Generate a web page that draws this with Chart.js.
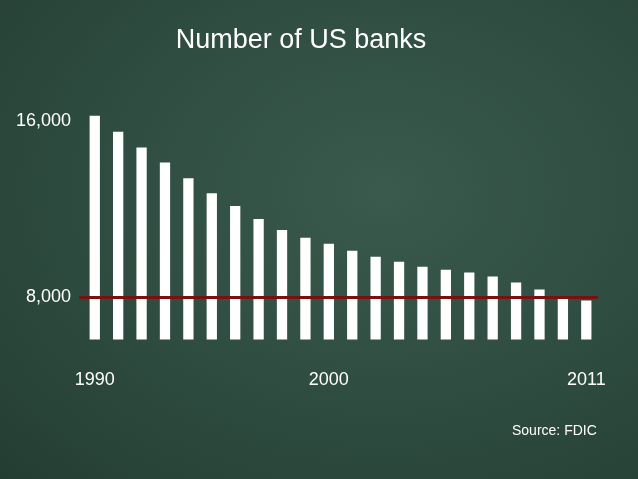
<!DOCTYPE html>
<html>
<head>
<meta charset="utf-8">
<script src="https://cdn.jsdelivr.net/npm/chart.js@4"></script>
<style>
  body { margin: 0; background: #2d4a3f; }
  #wrap { width: 638px; height: 479px; position: relative;
    background: radial-gradient(ellipse at 60% 40%, #3a5a4d 0%, #2d4a3f 60%, #243d33 100%); }
  #source { position: absolute; left: 512px; top: 422px; color: #fff; font: 14px "Liberation Sans", Arial, sans-serif; }
</style>
</head>
<body>
<div id="wrap">
  <canvas id="banks" width="638" height="479"></canvas>
  <div id="source">Source: FDIC</div>
</div>
<script>
// Data
const years = ['1990','1991','1992','1993','1994','1995','1996','1997','1998','1999','2000',
               '2001','2002','2003','2004','2005','2006','2007','2008','2009','2010','2011'];
const bankCounts = [16225, 15505, 14786, 14112, 13393, 12719, 12134, 11550, 11056, 10696, 10427,
                    10112, 9843, 9618, 9393, 9258, 9124, 8944, 8674, 8359, 8045, 7865];
const shownYears = ['1990', '2000', '2011'];
const yTicks = [8000, 16000];
const refLevel = 8000;

// Red reference line at 8,000
const refLinePlugin = {
  id: 'refLine',
  afterDatasetsDraw(chart) {
    const c = chart.ctx;
    const y = chart.scales.y.getPixelForValue(refLevel);
    c.save();
    c.strokeStyle = '#7a1010';
    c.lineWidth = 3;
    c.beginPath();
    c.moveTo(chart.chartArea.left - 4, y);
    c.lineTo(chart.chartArea.right, y);
    c.stroke();
    c.restore();
  }
};

const ctx = document.getElementById('banks').getContext('2d');
new Chart(ctx, {
  type: 'bar',
  data: {
    labels: years,
    datasets: [{
      data: bankCounts,
      backgroundColor: '#ffffff',
      barPercentage: 0.44,
      categoryPercentage: 1.0
    }]
  },
  options: {
    responsive: false,
    animation: false,
    layout: { padding: { top: 10, right: 40, left: 4, bottom: 58 } },
    plugins: {
      legend: { display: false },
      tooltip: { enabled: false },
      title: {
        display: true,
        text: 'Number of US banks',
        color: '#ffffff',
        font: { family: '"Liberation Sans", Arial', size: 27, weight: 'normal' },
        padding: { top: 14, bottom: 40 }
      }
    },
    scales: {
      x: {
        grid: { display: false, drawTicks: false },
        border: { display: false },
        ticks: {
          color: '#ffffff',
          font: { family: '"Liberation Sans", Arial', size: 18 },
          autoSkip: false,
          maxRotation: 0,
          padding: 30,
          callback: function(v) {
            const lab = years[v];
            return shownYears.includes(lab) ? lab : '';
          }
        }
      },
      y: {
        min: 6100,
        max: 17100,
        grid: { display: false, drawTicks: false },
        border: { display: false },
        afterBuildTicks: function(axis) {
          axis.ticks = yTicks.map(v => ({ value: v }));
        },
        ticks: {
          color: '#ffffff',
          font: { family: '"Liberation Sans", Arial', size: 18 },
          padding: 12,
          callback: v => v.toLocaleString('en-US')
        }
      }
    }
  },
  plugins: [refLinePlugin]
});
</script>
</body>
</html>
